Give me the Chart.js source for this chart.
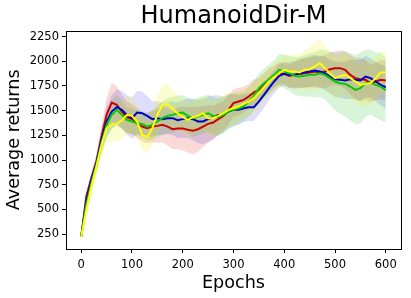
<!DOCTYPE html>
<html>
<head>
<meta charset="utf-8">
<script src="https://cdn.jsdelivr.net/npm/chart.js@4.4.0/dist/chart.umd.min.js"></script>
<style>
  html, body { margin: 0; padding: 0; background: #fff; }
  #wrap { width: 411px; height: 298px; }
</style>
</head>
<body>
<div id="wrap"><canvas id="chart" width="411" height="298"></canvas></div>
<script>
// HumanoidDir-M average returns, sampled every 10 epochs

const epochs = [0, 10, 20, 30, 40, 50, 60, 70, 80, 90, 100, 110, 120, 130, 140, 150, 160, 170, 180, 190,
  200, 210, 220, 230, 240, 250, 260, 270, 280, 290, 300, 310, 320, 330, 340, 350, 360, 370, 380, 390,
  400, 410, 420, 430, 440, 450, 460, 470, 480, 490, 500, 510, 520, 530, 540, 550, 560, 570, 580, 590, 600];

const xTicks = [0, 100, 200, 300, 400, 500, 600];
const yTicks = [250, 500, 750, 1000, 1250, 1500, 1750, 2000, 2250];

const redMean = [226, 631, 817, 985, 1238, 1457, 1582, 1559, 1491, 1434, 1414, 1373, 1339, 1323, 1339, 1346, 1356, 1339, 1312, 1319,
  1319, 1306, 1296, 1312, 1339, 1366, 1380, 1414, 1447, 1508, 1576, 1592, 1609, 1643, 1684, 1710, 1761, 1812, 1845, 1879,
  1872, 1852, 1862, 1872, 1879, 1886, 1896, 1886, 1896, 1919, 1930, 1930, 1913, 1862, 1829, 1818, 1812, 1778, 1795, 1812, 1805];
const blueMean = [226, 581, 800, 968, 1204, 1390, 1491, 1535, 1508, 1457, 1424, 1481, 1474, 1447, 1414, 1424, 1414, 1424, 1424, 1403,
  1414, 1424, 1414, 1390, 1390, 1414, 1434, 1457, 1457, 1491, 1508, 1508, 1525, 1535, 1535, 1592, 1660, 1727, 1795, 1852,
  1872, 1862, 1862, 1879, 1886, 1896, 1906, 1896, 1879, 1845, 1818, 1812, 1805, 1818, 1812, 1805, 1845, 1829, 1795, 1761, 1737];
const greenMean = [226, 547, 766, 952, 1171, 1356, 1457, 1508, 1457, 1407, 1390, 1373, 1366, 1339, 1356, 1390, 1424, 1447, 1457, 1474,
  1481, 1447, 1424, 1441, 1457, 1474, 1447, 1434, 1457, 1491, 1508, 1525, 1542, 1592, 1650, 1727, 1778, 1818, 1862, 1913,
  1896, 1879, 1852, 1845, 1852, 1862, 1862, 1879, 1862, 1829, 1795, 1778, 1771, 1744, 1710, 1727, 1778, 1785, 1761, 1744, 1707];
const yellowMean = [220, 496, 732, 935, 1154, 1323, 1356, 1366, 1400, 1457, 1447, 1390, 1255, 1232, 1323, 1457, 1559, 1569, 1515, 1474,
  1434, 1407, 1434, 1447, 1474, 1424, 1424, 1447, 1474, 1508, 1525, 1542, 1569, 1592, 1626, 1677, 1737, 1795, 1839, 1879,
  1913, 1896, 1896, 1886, 1913, 1919, 1947, 1980, 1930, 1879, 1829, 1845, 1862, 1829, 1795, 1761, 1771, 1778, 1829, 1886, 1886];

const redStd = [20, 40, 60, 80, 120, 170, 200, 190, 170, 160, 150, 150, 150, 150, 160, 170, 180, 190, 200, 210,
  220, 230, 240, 230, 210, 190, 170, 160, 150, 150, 140, 140, 130, 130, 130, 120, 120, 120, 110, 110,
  110, 120, 130, 140, 150, 150, 160, 160, 170, 170, 170, 180, 190, 200, 210, 220, 200, 190, 190, 200, 200];
const blueStd = [20, 40, 60, 80, 110, 150, 170, 180, 190, 200, 210, 220, 220, 200, 180, 170, 160, 160, 170, 180,
  190, 200, 210, 220, 230, 230, 220, 200, 180, 170, 160, 150, 140, 140, 140, 130, 130, 120, 120, 120,
  120, 130, 140, 150, 150, 160, 160, 160, 170, 170, 180, 180, 190, 200, 200, 210, 210, 200, 200, 210, 210];
const greenStd = [20, 40, 60, 80, 110, 140, 150, 150, 140, 130, 130, 130, 130, 140, 150, 160, 170, 180, 180, 180,
  180, 180, 190, 190, 190, 190, 190, 190, 190, 180, 170, 160, 150, 150, 150, 150, 150, 150, 150, 160,
  170, 180, 190, 200, 210, 220, 230, 240, 250, 270, 290, 310, 330, 340, 350, 360, 340, 330, 330, 340, 330];
const yellowStd = [20, 40, 60, 80, 110, 150, 170, 180, 190, 190, 190, 170, 160, 160, 170, 190, 200, 200, 190, 180,
  170, 170, 170, 170, 170, 180, 180, 180, 180, 170, 160, 150, 150, 150, 150, 150, 140, 140, 140, 140,
  150, 160, 170, 180, 200, 220, 240, 240, 230, 210, 200, 200, 200, 210, 210, 220, 230, 220, 210, 210, 210];

const series = [
  { name: 'red', mean: redMean, std: redStd, color: '#cc0000', band: 'rgba(220,0,0,0.15)' },
  { name: 'blue', mean: blueMean, std: blueStd, color: '#0000cc', band: 'rgba(0,0,220,0.13)' },
  { name: 'green', mean: greenMean, std: greenStd, color: '#00cc00', band: 'rgba(0,190,0,0.15)' },
  { name: 'yellow', mean: yellowMean, std: yellowStd, color: '#ffff00', band: 'rgba(240,240,0,0.18)' }
];

function toPoints(values) {
  return values.map((v, i) => ({ x: epochs[i], y: v }));
}

const datasets = [];

// shaded bands: upper edge fills down to the lower edge right after it
series.forEach((s, k) => {
  datasets.push({
    label: s.name + ' upper',
    data: toPoints(s.mean.map((m, i) => m + s.std[i])),
    borderWidth: 0,
    pointRadius: 0,
    backgroundColor: s.band,
    fill: '+1',
    order: 20 - k
  });
  datasets.push({
    label: s.name + ' lower',
    data: toPoints(s.mean.map((m, i) => m - s.std[i])),
    borderWidth: 0,
    pointRadius: 0,
    fill: false,
    order: 20 - k
  });
});

// mean lines, yellow ends up on top
series.forEach((s, k) => {
  datasets.push({
    label: s.name,
    data: toPoints(s.mean),
    borderColor: s.color,
    borderWidth: 2,
    pointRadius: 0,
    fill: false,
    tension: 0,
    order: 10 - k
  });
});

// matplotlib-like box around the plot area
const frame = {
  id: 'frame',
  afterDraw(chart) {
    const a = chart.chartArea;
    const ctx = chart.ctx;
    ctx.save();
    ctx.strokeStyle = '#000';
    ctx.lineWidth = 1;
    ctx.strokeRect(Math.round(a.left) + 0.5, Math.round(a.top) + 0.5,
      Math.round(a.right - a.left), Math.round(a.bottom - a.top));
    ctx.restore();
  }
};

const font = 'DejaVu Sans';

new Chart(document.getElementById('chart'), {
  type: 'line',
  data: { datasets: datasets },
  options: {
    responsive: false,
    animation: false,
    layout: { padding: { left: 0, right: 10, top: 0, bottom: 0 } },
    plugins: {
      legend: { display: false },
      tooltip: { enabled: false },
      title: {
        display: true,
        text: 'HumanoidDir-M',
        fullSize: false,
        color: '#000',
        font: { family: font, size: 24, weight: 'normal', lineHeight: 1.15 },
        padding: { top: 3, bottom: 0 }
      }
    },
    scales: {
      x: {
        type: 'linear',
        min: -30,
        max: 630,
        afterBuildTicks: scale => { scale.ticks = xTicks.map(v => ({ value: v })); },
        afterFit: scale => { scale.height = 49; },
        grid: { drawOnChartArea: false, drawTicks: true, tickLength: 4, color: '#000' },
        border: { display: false },
        ticks: { color: '#000', padding: 5, font: { family: font, size: 11.5 }, maxRotation: 0,
          callback: v => String(v) },
        title: {
          display: true,
          text: 'Epochs',
          color: '#000',
          font: { family: font, size: 17.6 },
          padding: { top: 0, bottom: 4 }
        }
      },
      y: {
        min: 100,
        max: 2310,
        afterBuildTicks: scale => { scale.ticks = yTicks.map(v => ({ value: v })); },
        afterFit: scale => { scale.width = 66; },
        grid: { drawOnChartArea: false, drawTicks: true, tickLength: 4, color: '#000' },
        border: { display: false },
        ticks: { color: '#000', padding: 3, font: { family: font, size: 11.5 },
          callback: v => String(v) },
        title: {
          display: true,
          text: 'Average returns',
          color: '#000',
          font: { family: font, size: 17.6 },
          padding: { top: 4, bottom: 0 }
        }
      }
    }
  },
  plugins: [frame]
});
</script>
</body>
</html>
